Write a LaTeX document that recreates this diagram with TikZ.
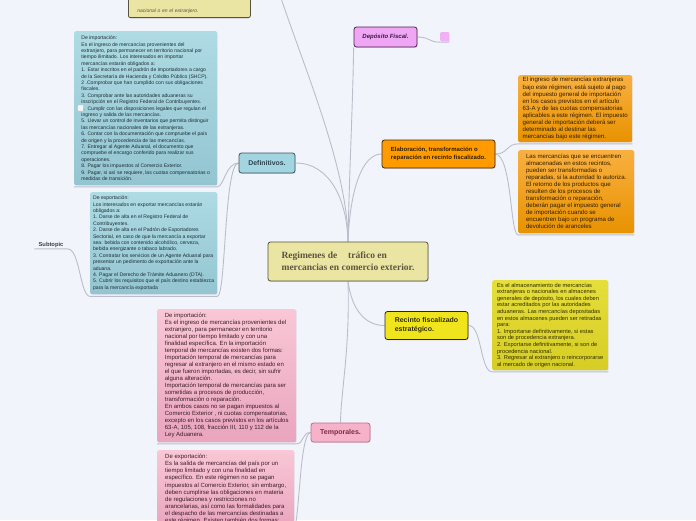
\documentclass[tikz,border=0pt]{standalone}
\usepackage{fontspec}
\setmainfont{Liberation Sans}
\newfontfamily\serifbold{Liberation Serif}
\usetikzlibrary{shadows, backgrounds}

\definecolor{bgpaper}{RGB}{242,244,251}
\definecolor{linkgray}{RGB}{186,190,202}
\definecolor{khaki}{RGB}{234,229,163}
\definecolor{khakiline}{RGB}{85,82,61}
\definecolor{khakitext}{RGB}{90,86,64}
\definecolor{skynode}{RGB}{162,213,224}
\definecolor{skyline}{RGB}{59,85,96}
\definecolor{skytext}{RGB}{44,68,80}
\definecolor{skytop}{RGB}{174,219,228}
\definecolor{skybot}{RGB}{147,197,209}
\definecolor{skymemo}{RGB}{31,45,51}
\definecolor{orangenode}{RGB}{255,155,0}
\definecolor{orangeline}{RGB}{58,42,26}
\definecolor{orangetop}{RGB}{249,176,64}
\definecolor{orangebot}{RGB}{232,146,0}
\definecolor{orangetext}{RGB}{48,30,0}
\definecolor{yellownode}{RGB}{240,229,28}
\definecolor{yellowline}{RGB}{42,42,16}
\definecolor{yellowtop}{RGB}{230,222,58}
\definecolor{yellowbot}{RGB}{214,205,36}
\definecolor{yellowtext}{RGB}{50,48,0}
\definecolor{pinknode}{RGB}{246,178,200}
\definecolor{pinkline}{RGB}{201,106,138}
\definecolor{pinktext}{RGB}{122,43,69}
\definecolor{pinktop}{RGB}{249,199,214}
\definecolor{pinkbot}{RGB}{233,165,190}
\definecolor{pinkmemo}{RGB}{59,31,40}
\definecolor{violetnode}{RGB}{239,166,244}
\definecolor{violetline}{RGB}{77,32,82}
\definecolor{violettext}{RGB}{58,26,64}
\definecolor{subtext}{RGB}{60,64,72}

\begin{document}
\begin{tikzpicture}[x=1pt, y=-1pt,
    link/.style={draw=linkgray, line width=0.9pt},
    topic/.style={rectangle, rounded corners=2.5pt, draw, line width=0.8pt, align=left, inner sep=0pt, drop shadow={shadow xshift=0.7pt, shadow yshift=-0.9pt, opacity=0.25}},
    memo/.style={rectangle, rounded corners=2pt, anchor=north west, align=left, inner sep=0pt, drop shadow={shadow xshift=0.5pt, shadow yshift=-0.7pt, opacity=0.15}}
]
    \useasboundingbox (0,0) rectangle (696,520);

    % Central topic
    \node[topic, draw=khakiline, fill=khaki, text=khakitext, minimum width=160pt, minimum height=39pt, font=\serifbold\bfseries\fontsize{9.5}{12}\selectfont] (center) at (348,261.5) {Regimenes de\hspace{0.9em} tráfico en\\mercancias en comercio exterior.};

    % Main topics
    \node[topic, draw=skyline, fill=skynode, text=skytext, minimum width=56pt, minimum height=20pt, font=\bfseries\fontsize{6.9}{8}\selectfont] (defin) at (267,163) {Definitivos.};
    \node[topic, draw=violetline, fill=violetnode, text=violettext, minimum width=63pt, minimum height=20pt, font=\bfseries\itshape\fontsize{6}{7}\selectfont] (dep) at (385.5,37) {Depósito Fiscal.};
    \node[topic, draw=orangeline, fill=orangenode, text=orangetext, minimum width=113pt, minimum height=28pt, font=\bfseries\fontsize{6}{8.2}\selectfont] (elab) at (438.5,154) {Elaboración, transformación o\\reparación en recinto fiscalizado.};
    \node[topic, draw=yellowline, fill=yellownode, text=yellowtext, minimum width=83pt, minimum height=28pt, font=\bfseries\fontsize{7}{8.8}\selectfont] (recinto) at (426.5,325.5) {Recinto fiscalizado\\estratégico.};
    \node[topic, draw=pinkline, fill=pinknode, text=pinktext, minimum width=59pt, minimum height=19pt, font=\bfseries\fontsize{7}{8}\selectfont] (temp) at (340.5,432.5) {Temporales.};

    % Definitivos notes
    \node[memo, top color=skytop, bottom color=skybot, text=skymemo, minimum width=143pt, minimum height=154pt, font=\fontsize{5.1}{6.4}\selectfont] (impdef) at (74,31) {De importación:\\
Es el ingreso de mercancías provenientes del\\
extranjero, para permanecer en territorio nacional por\\
tiempo ilimitado. Los interesados en importar\\
mercancías estarán obligados a:\\
1. Estar inscritos en el padrón de importadores a cargo\\
de la Secretaría de Hacienda y Crédito Público (SHCP).\\
2 .Comprobar que han cumplido con sus obligaciones\\
fiscales.\\
3. Comprobar ante las autoridades aduaneras su\\
inscripción en el Registro Federal de Contribuyentes.\\
4. Cumplir con las disposiciones legales que regulan el\\
ingreso y salida de las mercancías.\\
5. Llevar un control de inventarios que permita distinguir\\
las mercancías nacionales de las extranjeras.\\
6. Contar con la documentación que compruebe el país\\
de origen y la procedencia de las mercancías.\\
7. Entregar al Agente Aduanal, el documento que\\
compruebe el encargo conferido para realizar sus\\
operaciones.\\
8. Pagar los impuestos al Comercio Exterior.\\
9. Pagar, si así se requiere, las cuotas compensatorias o\\
medidas de transición.};
    \node[draw=gray!55, fill=white!92!gray, minimum size=6pt, inner sep=0pt, rounded corners=0.5pt] (noteicon) at (80.5,108) {};
    \node[memo, top color=skytop, bottom color=skybot, text=skymemo, minimum width=127pt, minimum height=102pt, font=\fontsize{5.1}{6.4}\selectfont] (expdef) at (90,192) {De exportación:\\
Los interesados en exportar mercancías estarán\\
obligados a:\\
1. Darse de alta en el Registro Federal de\\
Contribuyentes.\\
2. Darse de alta en el Padrón de Exportadores\\
Sectorial, en caso de que la mercancía a exportar\\
sea: bebida con contenido alcohólico, cerveza,\\
bebida energizante o tabaco labrado.\\
3. Contratar los servicios de un Agente Aduanal para\\
presentar un pedimento de exportación ante la\\
aduana.\\
4. Pagar el Derecho de Trámite Aduanero (DTA).\\
5. Cubrir los requisitos que el país destino establezca\\
para la mercancía exportada};
    \node[font=\bfseries\fontsize{5.8}{7}\selectfont, text=subtext, inner sep=1pt, minimum width=33pt] (sub) at (51,245) {Subtopic};

    % Elaboracion notes
    \node[memo, top color=orangetop, bottom color=orangebot, text=orangetext, minimum width=114pt, minimum height=67pt, font=\fontsize{6.1}{7.1}\selectfont] (ora1) at (518,75) {El ingreso de mercancías extranjeras\\
bajo este régimen, está sujeto al pago\\
del impuesto general de importación\\
en los casos previstos en el artículo\\
63-A y de las cuotas compensatorias\\
aplicables a este régimen. El impuesto\\
general de importación deberá ser\\
determinado al destinar las\\
mercancías bajo este régimen.};
    \node[memo, top color=orangetop, bottom color=orangebot, text=orangetext, minimum width=116pt, minimum height=83pt, font=\fontsize{6.1}{7.0}\selectfont] (ora2) at (518,150) {Las mercancías que se encuentren\\
almacenadas en estos recintos,\\
pueden ser transformadas o\\
reparadas, si la autoridad lo autoriza.\\
El retorno de los productos que\\
resulten de los procesos de\\
transformación o reparación,\\
deberán pagar el impuesto general\\
de importación cuando se\\
encuentren bajo un programa de\\
devolución de aranceles};

    % Deposito and recinto notes
    \node[memo, fill=violetnode!90!white, minimum width=9pt, minimum height=9pt, rounded corners=1pt] (dot) at (440,32) {};
    \node[memo, top color=yellowtop, bottom color=yellowbot, text=yellowtext, minimum width=116pt, minimum height=90pt, font=\fontsize{5.7}{6.6}\selectfont] (yel) at (492,280) {Es el almacenamiento de mercancías\\
extranjeras o nacionales en almacenes\\
generales de depósito, los cuales deben\\
estar acreditados por las autoridades\\
aduaneras. Las mercancías depositadas\\
en estos almacenes pueden ser retiradas\\
para:\\
1. Importarse definitivamente, si estas\\
son de procedencia extranjera.\\
2. Exportarse definitivamente, si son de\\
procedencia nacional.\\
3. Regresar al extranjero o reincorporarse\\
al mercado de origen nacional.};

    % Temporales notes
    \node[memo, top color=pinktop, bottom color=pinkbot, text=pinkmemo, minimum width=139pt, minimum height=133pt, font=\fontsize{6}{7}\selectfont] (pink1) at (157,309) {De importación:\\
Es el ingreso de mercancías provenientes del\\
extranjero, para permanecer en territorio\\
nacional por tiempo limitado y con una\\
finalidad específica. En la importación\\
temporal de mercancías existen dos formas:\\
Importación temporal de mercancías para\\
regresar al extranjero en el mismo estado en\\
el que fueron importadas, es decir, sin sufrir\\
alguna alteración.\\
Importación temporal de mercancías para ser\\
sometidas a procesos de producción,\\
transformación o reparación.\\
En ambos casos no se pagan impuestos al\\
Comercio Exterior , ni cuotas compensatorias,\\
excepto en los casos previstos en los artículos\\
63-A, 105, 108, fracción III, 110 y 112 de la\\
Ley Aduanera.};
    \node[memo, top color=pinktop, bottom color=pinkbot, text=pinkmemo, minimum width=137pt, inner ysep=4pt, font=\fontsize{6}{7.1}\selectfont] (pink2) at (157,450) {De exportación:\\
Es la salida de mercancías del país por un\\
tiempo limitado y con una finalidad en\\
específico. En este régimen no se pagan\\
impuestos al Comercio Exterior, sin embargo,\\
deben cumplirse las obligaciones en materia\\
de regulaciones y restricciones no\\
arancelarias, así como las formalidades para\\
el despacho de las mercancías destinadas a\\
este régimen. Existen también dos formas:};

    % Note cut by the upper edge
    \node[memo, anchor=south west, fill=khaki, draw=khakiline, line width=0.8pt, text=khakitext, text width=104pt, inner xsep=9pt, inner ysep=4pt, text height=30pt, text depth=1.5pt, font=\itshape\fontsize{5}{6}\selectfont] (upnote) at (128,18) {nacional o en el extranjero.};

    \coordinate (upper) at (281,-2);

    \begin{scope}[on background layer]
        \fill[bgpaper] (0,0) rectangle (696,520);

        % Connections
        \draw[link] (center.north) .. controls (348,170) and (305,70) .. (upper);
        \draw[link] (center.north) .. controls (347,200) and (330,163) .. (defin.east);
        \draw[link] (center.north) .. controls (349,180) and (353,100) .. (dep.south west);
        \draw[link] (center.north) .. controls (350,190) and (362,154) .. (elab.west);
        \draw[link] (center.south) .. controls (350,350) and (341,390) .. (temp.north);
        \draw[link] (center.south) .. controls (352,310) and (365,325.5) .. (recinto.west);

        \draw[link] (defin.west) .. controls (226,163) and (224,186) .. ([yshift=-1.5pt]impdef.south east) -- ([yshift=-1.5pt]impdef.south west);
        \draw[link] (defin.west) .. controls (224,163) and (226,296) .. ([yshift=-2pt]expdef.south east) -- ([yshift=-2pt]expdef.south west) .. controls (80,296) and (80,249) .. (sub.south east) -- (sub.south west);

        \draw[link] (elab.east) .. controls (508,154) and (506,144) .. ([yshift=-1.5pt]ora1.south west) -- ([yshift=-1.5pt]ora1.south east);
        \draw[link] (elab.east) .. controls (512,156) and (510,234) .. ([yshift=-1.5pt]ora2.south west) -- ([yshift=-1.5pt]ora2.south east);

        \draw[link] (dep.east) .. controls (430,37) and (428,42) .. ([yshift=-0.8pt]dot.south west) -- ([yshift=-0.8pt]dot.south east);
        \draw[link] (recinto.east) .. controls (482,325) and (480,371) .. ([yshift=-1.5pt]yel.south west) -- ([yshift=-1.5pt]yel.south east);

        \draw[link] (temp.west) .. controls (302,432) and (304,444) .. ([yshift=-1.5pt]pink1.south east) -- ([yshift=-1.5pt]pink1.south west);
        \draw[link] (temp.west) .. controls (300,434) and (300,510) .. ([yshift=-1.5pt]pink2.south east);
    \end{scope}
\end{tikzpicture}
\end{document}
